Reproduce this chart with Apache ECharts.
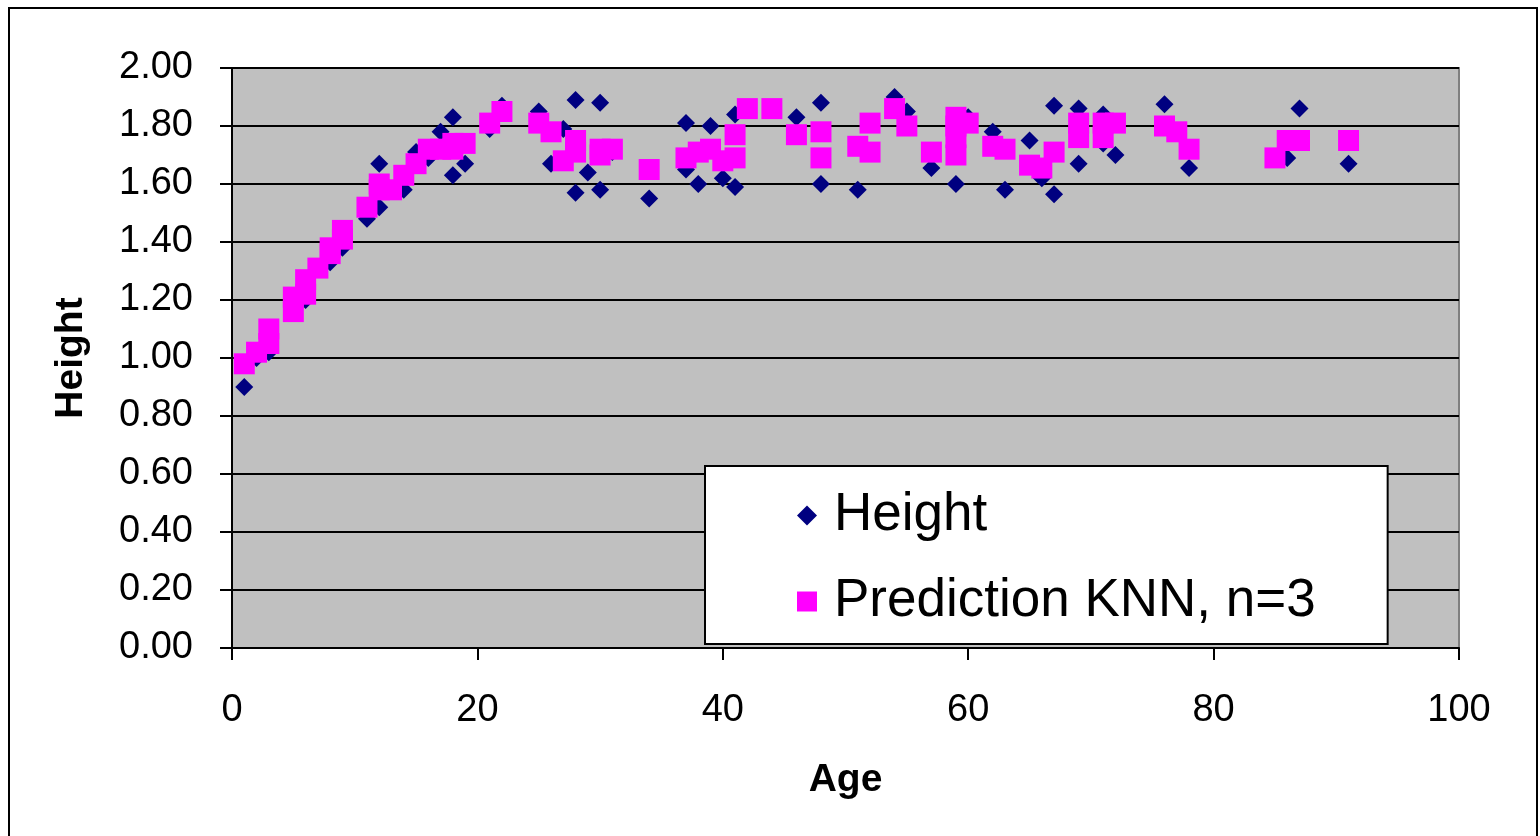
<!DOCTYPE html>
<html>
<head>
<meta charset="utf-8">
<script src="https://cdn.jsdelivr.net/npm/echarts@6/dist/echarts.min.js"></script>
<style>
html,body{margin:0;padding:0;background:#fff;}
#main{width:1540px;height:836px;}
</style>
</head>
<body>
<div id="main"></div>
<script>
// Observed heights (age, height)
const heightAges = [1,2,3,3,6,8,9,11,12,12,14,15,16,17,18,18,19,21,22,25,26,27,28,28,29,30,30,31,34,37,37,38,39,40,41,41,44,46,48,48,51,52,52,54,55,57,59,60,62,63,65,66,67,67,69,69,71,71,72,76,78,86,87,91];
const heightValues = [0.90,1.00,1.04,1.02,1.20,1.33,1.38,1.48,1.67,1.52,1.58,1.71,1.69,1.78,1.83,1.63,1.67,1.79,1.87,1.85,1.67,1.79,1.89,1.57,1.64,1.88,1.58,1.71,1.55,1.81,1.65,1.60,1.80,1.62,1.59,1.84,1.855,1.83,1.88,1.60,1.58,1.71,1.81,1.90,1.85,1.655,1.60,1.83,1.78,1.58,1.75,1.62,1.87,1.565,1.86,1.67,1.84,1.74,1.70,1.875,1.655,1.69,1.86,1.67];

// KNN predictions (age, predicted height)
const knnAges = [1,2,3,3,5,5,6,6,7,8,8,9,9,11,12,12,13,14,15,16,17,18,18,19,21,22,25,26,27,28,28,30,30,31,34,37,38,39,40,41,41,42,44,46,48,48,51,52,52,54,55,57,59,59,59,59,60,62,63,65,66,67,69,69,71,71,72,76,77,78,85,86,87,91];
const knnValues = [0.98,1.02,1.10,1.05,1.16,1.21,1.27,1.22,1.31,1.36,1.38,1.44,1.41,1.52,1.60,1.58,1.58,1.63,1.67,1.72,1.72,1.72,1.74,1.74,1.81,1.85,1.81,1.78,1.68,1.75,1.71,1.72,1.70,1.72,1.65,1.69,1.71,1.72,1.68,1.77,1.69,1.86,1.86,1.77,1.78,1.69,1.73,1.71,1.81,1.86,1.80,1.71,1.83,1.80,1.76,1.70,1.81,1.73,1.72,1.665,1.655,1.71,1.81,1.76,1.81,1.76,1.81,1.80,1.78,1.72,1.69,1.75,1.75,1.75];

const seriesNames = ['Height', 'Prediction KNN, n=3'];
const xTicks = {min: 0, max: 100, interval: 20};
const yTicks = {min: 0, max: 2, interval: 0.2};

const heightData = heightAges.map((a, i) => [a, heightValues[i]]);
const knnData = knnAges.map((a, i) => [a, knnValues[i]]);

const FONT = 'Liberation Sans, Arial, sans-serif';
const chart = echarts.init(document.getElementById('main'));
chart.setOption({
  animation: false,
  backgroundColor: '#fff',
  textStyle: {fontFamily: FONT},
  graphic: [{
    type: 'rect', z: -10, silent: true,
    shape: {x: 9, y: 8, width: 1528, height: 840},
    style: {fill: '#fff', stroke: '#000', lineWidth: 2}
  }],
  grid: {
    left: 232, top: 68, right: 81, bottom: 188,
    show: true, backgroundColor: '#C0C0C0', borderColor: '#808080', borderWidth: 2
  },
  legend: {
    orient: 'vertical',
    left: 705, top: 466,
    backgroundColor: '#fff',
    borderColor: '#000', borderWidth: 2,
    padding: [23, 72, 16, 92],
    itemWidth: 20, itemHeight: 20,
    itemGap: 33,
    textStyle: {fontSize: 53, fontFamily: FONT, color: '#000', lineHeight: 50, padding: [0, 0, 0, 12]},
    data: [
      {name: seriesNames[0], icon: 'diamond'},
      {name: seriesNames[1], icon: 'rect'}
    ]
  },
  xAxis: {
    type: 'value', min: xTicks.min, max: xTicks.max, interval: xTicks.interval,
    name: 'Age', nameLocation: 'middle', nameGap: 113,
    nameTextStyle: {fontSize: 39, fontWeight: 'bold', color: '#000', fontFamily: FONT},
    axisLine: {lineStyle: {color: '#000', width: 2}},
    axisTick: {show: true, length: 12, lineStyle: {color: '#000', width: 2}},
    axisLabel: {fontSize: 38, color: '#000', margin: 44, fontFamily: FONT},
    splitLine: {show: false}
  },
  yAxis: {
    type: 'value', min: yTicks.min, max: yTicks.max, interval: yTicks.interval,
    name: 'Height', nameLocation: 'middle', nameGap: 141, nameRotate: 90,
    nameTextStyle: {fontSize: 39, fontWeight: 'bold', color: '#000', fontFamily: FONT},
    axisLine: {show: true, lineStyle: {color: '#000', width: 2}},
    axisTick: {show: true, length: 12, lineStyle: {color: '#000', width: 2}},
    axisLabel: {fontSize: 38, color: '#000', margin: 39, fontFamily: FONT,
      formatter: v => v.toFixed(2)},
    splitLine: {show: true, lineStyle: {color: '#000', width: 2}}
  },
  series: [
    {
      name: seriesNames[0], type: 'scatter', symbol: 'diamond', symbolSize: 18,
      itemStyle: {color: '#000080', opacity: 1},
      data: heightData, z: 2
    },
    {
      name: seriesNames[1], type: 'scatter', symbol: 'rect', symbolSize: 21,
      itemStyle: {color: '#FF00FF', opacity: 1},
      data: knnData, z: 3
    }
  ]
});
</script>
</body>
</html>
